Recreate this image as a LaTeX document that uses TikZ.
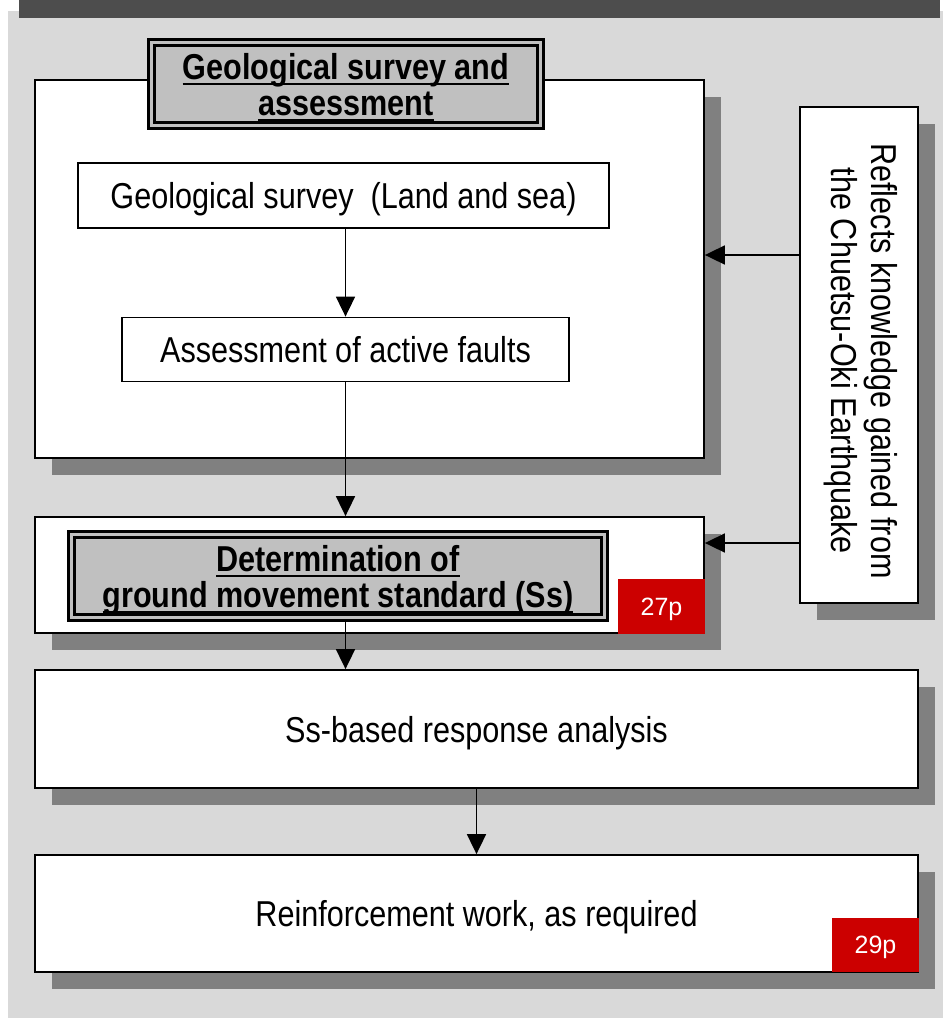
\documentclass[tikz,border=0pt]{standalone}
\usepackage{fontspec}
\setmainfont{Liberation Sans}[FakeStretch=0.85]
\newfontfamily\pagefont{Liberation Sans}
\usepackage{xcolor}
\usepackage{tikz}
\usetikzlibrary{arrows.meta,shadows}

\definecolor{bggray}{HTML}{D9D9D9}
\definecolor{bandgray}{HTML}{4D4D4D}
\definecolor{titlegray}{HTML}{C0C0C0}
\definecolor{shadowgray}{HTML}{808080}
\definecolor{pagered}{HTML}{CC0000}

\newsavebox\ulsave
\newcommand{\ulbox}[1]{\sbox\ulsave{#1}\rlap{\rule[-6pt]{\wd\ulsave}{2pt}}\usebox\ulsave}

\begin{document}
\begin{tikzpicture}[x=1pt,y=-1pt,
  box/.style={draw, line width=1.8pt, fill=white, inner sep=0pt, align=center,
    text depth=0pt, font=\fontsize{36pt}{40pt}\selectfont},
  shadowbox/.style={box, drop shadow={shadow xshift=17pt, shadow yshift=-17pt,
    fill=shadowgray, opacity=1}},
  titlebox/.style={draw, line width=3pt, double=titlegray, double distance=3pt,
    fill=titlegray, inner sep=0pt, align=center, text depth=0pt,
    font=\bfseries\fontsize{36pt}{36pt}\selectfont},
  pagebox/.style={fill=pagered, text=white, inner sep=0pt, text depth=0pt,
    font=\pagefont\fontsize{25pt}{25pt}\selectfont},
  arr/.style={line width=1.8pt, -{Triangle[length=20pt,width=19pt]}}]
\useasboundingbox (0,0) rectangle (943,1018);

\fill[bggray] (8,11) rectangle (943,1018);
\fill[bandgray] (19,0) rectangle (940,18);

% survey block
\node[shadowbox, minimum width=669pt, minimum height=378pt] (geo) at (369.5,269) {};
\node[titlebox, minimum width=389pt, minimum height=83pt] (geotitle) at (346,84)
  {\ulbox{Geological survey and}\\\ulbox{assessment}};
\node[box, minimum width=531pt, minimum height=65pt] (survey) at (343.5,195.5)
  {Geological survey\ \ (Land and sea)};
\node[box, minimum width=447pt, minimum height=64pt] (assess) at (345.5,349.5)
  {Assessment of active faults};

% Ss block
\node[shadowbox, minimum width=669pt, minimum height=116pt] (det) at (369.5,575) {};
\node[titlebox, minimum width=533pt, minimum height=83pt] (dettitle) at (338,576)
  {\ulbox{Determination of}\\\ulbox{ground movement standard (Ss)}};
\node[pagebox, minimum width=87pt, minimum height=55pt] (p27) at (661.5,606.5) {27p};

\node[shadowbox, minimum width=883pt, minimum height=118pt] (ss) at (476.5,729)
  {Ss-based response analysis};
\node[shadowbox, minimum width=883pt, minimum height=117pt] (reinf) at (476.5,913.5)
  {Reinforcement work, as required};
\node[pagebox, minimum width=87pt, minimum height=54pt] (p29) at (875.5,945) {29p};

% side note
\node[shadowbox, minimum width=118pt, minimum height=496pt] (reflect) at (859,355) {};
\node[rotate=-90, align=center, font=\fontsize{36pt}{40pt}\selectfont] (reflecttext)
  at ([xshift=2pt,yshift=-6pt]reflect.center)
  {Reflects knowledge gained from\\the Chuetsu-Oki Earthquake};

\draw[arr] (survey.south -| assess.north) -- (assess.north);
\draw[arr] (assess.south) -- (assess.south |- det.north);
\draw[arr] (assess.south |- dettitle.south) -- (assess.south |- ss.north);
\draw[arr] (ss.south) -- (reinf.north);
\draw[arr] ([yshift=100pt]reflect.west) -- ([yshift=14pt]geo.east);
\draw[arr] ([yshift=-188pt]reflect.west) -- ([yshift=32pt]det.east);
\end{tikzpicture}
\end{document}
